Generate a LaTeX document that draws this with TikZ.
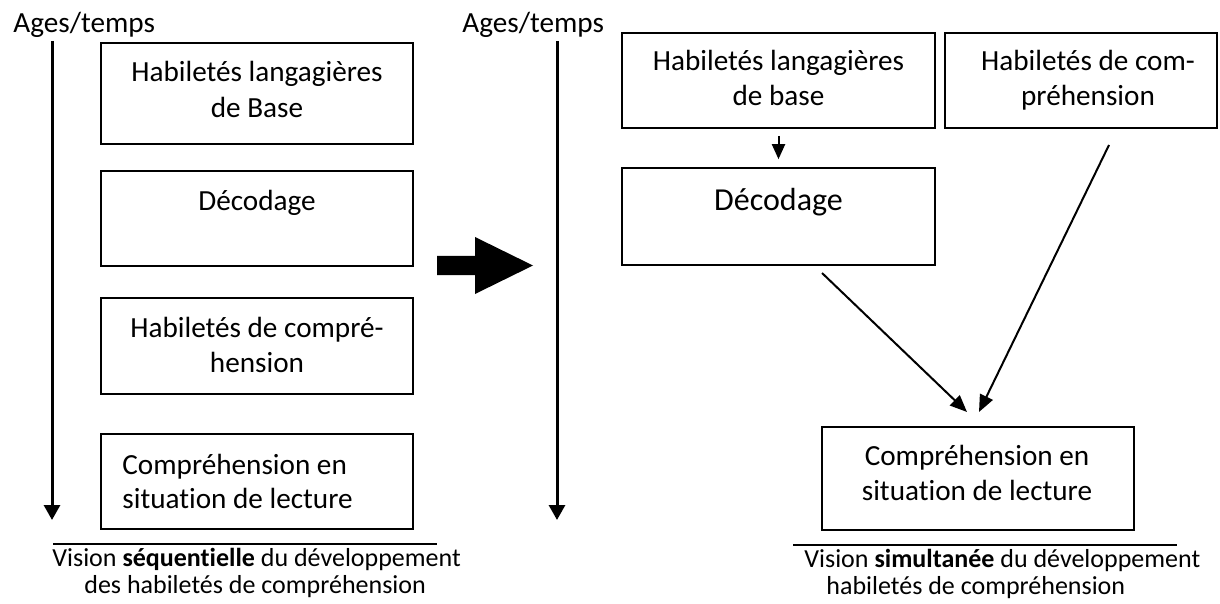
\documentclass[tikz,border=0pt]{standalone}
\usepackage{fontspec}
\setmainfont{Carlito}[Ligatures={NoCommon}]
\usetikzlibrary{arrows.meta}
\begin{document}
\begin{tikzpicture}[x=0.5pt,y=-0.5pt,
  bx/.style 2 args={draw, line width=0.8pt, minimum width=#1*0.5pt, minimum height=#2*0.5pt, inner sep=0pt},
  txt/.style={inner sep=0pt, font=\fontsize{14.6pt}{18pt}\selectfont},
  captxt/.style={inner sep=0pt, font=\fontsize{13pt}{15pt}\selectfont},
  bigtxt/.style={inner sep=0pt, font=\fontsize{16pt}{19pt}\selectfont},
  axis/.style={line width=1.5pt, -{Triangle[length=7.5pt,width=8pt]}},
  arr/.style={line width=1pt, -{Triangle[length=8.5pt,width=7pt]}},
  sarr/.style={line width=1pt, -{Triangle[length=7.5pt,width=6.5pt]}},
  sep/.style={line width=0.75pt}]
\useasboundingbox (0,0) rectangle (1220,604);

% ---------- left: sequential ----------
\node[txt, anchor=base west] (agesL) at (13,33) {Ages/temps};
\coordinate (axLt) at (52,41);
\coordinate (axLb) at (52,520);
\draw[axis] (axLt) -- (axLb);

\node[bx={312}{101}] (L1) at (257,93.5) {};
\node[txt, anchor=base] (L1a) at (257,82) {Habiletés langagières};
\node[txt, anchor=base] (L1b) at (257,118) {de Base};

\node[bx={312}{95}] (L2) at (257,218.5) {};
\node[txt, anchor=base] (L2a) at (257,211) {Décodage};

\node[bx={312}{96}] (L3) at (257,346) {};
\node[txt, anchor=base] (L3a) at (257,337) {Habiletés de compré-};
\node[txt, anchor=base] (L3b) at (257,372) {hension};

\node[bx={312}{95}] (L4) at (257,481.5) {};
\node[txt, anchor=base west] (L4a) at (122,474) {Compréhension en};
\node[txt, anchor=base west] (L4b) at (122,508) {situation de lecture};

\coordinate (sLa) at (53,544);
\coordinate (sLb) at (437,544);
\draw[sep] (sLa) -- (sLb);
\node[captxt, anchor=base west] (capL1) at (52,566) {Vision \textbf{séquentielle} du développement};
\node[captxt, anchor=base west] (capL2) at (84,593) {des habiletés de compréhension};

% ---------- big arrow ----------
\fill (437,256) -- (475,256) -- (475,237) -- (533,265.5) -- (475,294) -- (475,275) -- (437,275) -- cycle;

% ---------- right: simultaneous ----------
\node[txt, anchor=base west] (agesR) at (462,33) {Ages/temps};
\coordinate (axRt) at (557,41);
\coordinate (axRb) at (557,520);
\draw[axis] (axRt) -- (axRb);

\node[bx={313}{95}] (R1) at (778.5,80.5) {};
\node[txt, anchor=base] (R1a) at (778.5,71) {Habiletés langagières};
\node[txt, anchor=base] (R1b) at (778.5,106) {de base};

\node[bx={272}{95}] (R2) at (1081,80.5) {};
\node[txt, anchor=base] (R2a) at (1088,71) {Habiletés de com-};
\node[txt, anchor=base] (R2b) at (1088,106) {préhension};

\node[bx={313}{97}] (R3) at (778.5,216.5) {};
\node[bigtxt, anchor=base] (R3a) at (778.5,211) {Décodage};

\node[bx={312}{103}] (R4) at (978,478.5) {};
\node[txt, anchor=base] (R4a) at (977,465) {Compréhension en};
\node[txt, anchor=base] (R4b) at (977,500) {situation de lecture};

\draw[sarr] ([yshift=-3.5pt]R1.south) -- ([yshift=4pt]R3.north);

\coordinate (a1s) at (822,273);
\coordinate (a1e) at (967,412);
\coordinate (a2s) at (1109,145);
\coordinate (a2e) at (979,412);
\draw[arr] (a1s) -- (a1e);
\draw[arr] (a2s) -- (a2e);

\coordinate (sRa) at (793,545);
\coordinate (sRb) at (1177,545);
\draw[sep] (sRa) -- (sRb);
\node[captxt, anchor=base west] (capR1) at (804,567) {Vision \textbf{simultanée} du développement};
\node[captxt, anchor=base west] (capR2) at (826,594) {habiletés de compréhension};
\end{tikzpicture}
\end{document}
